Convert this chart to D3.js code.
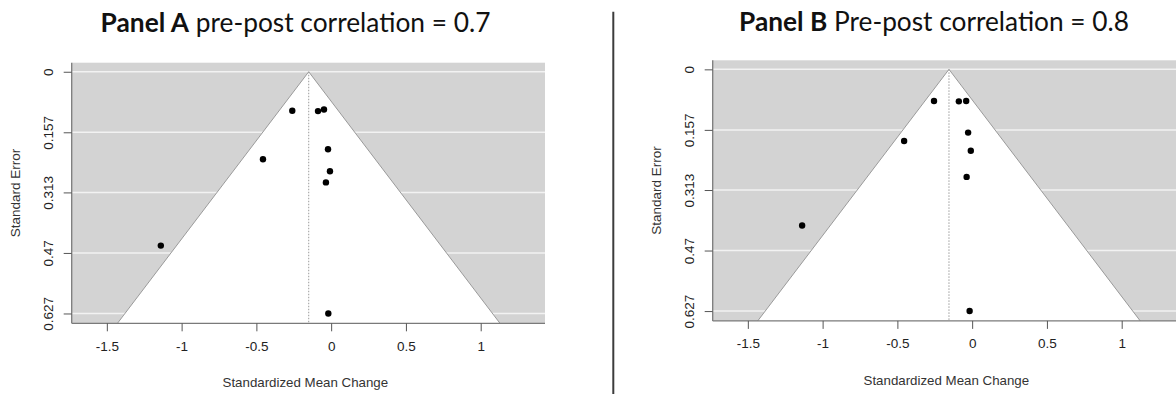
<!DOCTYPE html>
<html>
<head>
<meta charset="utf-8">
<script src="https://cdn.jsdelivr.net/npm/d3@7/dist/d3.min.js"></script>
<style>
  html, body { margin: 0; padding: 0; background: #fff; }
  svg { display: block; }
</style>
</head>
<body>
<svg id="chart" width="1176" height="394"></svg>
<script>
// Axis ticks shared by both funnel plots
const seTicks = [0, 0.157, 0.313, 0.47, 0.627];
const seTickLabels = ["0", "0.157", "0.313", "0.47", "0.627"];
const smcTicks = [-1.5, -1, -0.5, 0, 0.5, 1];
const smcTickLabels = ["-1.5", "-1", "-0.5", "0", "0.5", "1"];

// Panel A: pre-post correlation = 0.7
const panelA_smc = [-0.260, -0.088, -0.048, -0.021, -0.008, -0.035, -0.019, -0.456, -1.139];
const panelA_se  = [0.101, 0.102, 0.098, 0.201, 0.258, 0.287, 0.627, 0.227, 0.451];
const panelA_estimate = -0.15;

// Panel B: pre-post correlation = 0.8
const panelB_smc = [-0.255, -0.089, -0.040, -0.027, -0.455, -0.009, -0.037, -0.017, -1.137];
const panelB_se  = [0.082, 0.083, 0.082, 0.164, 0.186, 0.211, 0.279, 0.627, 0.405];
const panelB_estimate = -0.155;

const funnelZ = 1.96;
const xDomain = [-1.735, 1.43];
const yDomain = [-0.0235, 0.6525];

const panels = [
  { label: "Panel A", rest: " pre-post correlation = 0.7", smc: panelA_smc, se: panelA_se,
    est: panelA_estimate, left: 71.7, top: 62.7, titleX: 295.5, titleY: 31.7 },
  { label: "Panel B", rest: " Pre-post correlation = 0.8", smc: panelB_smc, se: panelB_se,
    est: panelB_estimate, left: 712.7, top: 60.3, titleX: 934, titleY: 30.5 }
];

const plotW = 473.3, plotH = 260.6;
const svg = d3.select("#chart");

// Divider between the two panels
svg.append("line")
  .attr("x1", 613.3).attr("x2", 613.3).attr("y1", 11.7).attr("y2", 394)
  .attr("stroke", "#3c3c3c").attr("stroke-width", 2);

panels.forEach(p => {
  const x = d3.scaleLinear().domain(xDomain).range([p.left, p.left + plotW]);
  const y = d3.scaleLinear().domain(yDomain).range([p.top, p.top + plotH]);
  const g = svg.append("g");

  // shaded background
  g.append("rect")
    .attr("x", x(xDomain[0])).attr("y", y(yDomain[0]))
    .attr("width", x(xDomain[1]) - x(xDomain[0]))
    .attr("height", y(yDomain[1]) - y(yDomain[0]))
    .attr("fill", "#d3d3d3");

  // horizontal grid at SE ticks
  g.selectAll("line.grid").data(seTicks).join("line")
    .attr("class", "grid")
    .attr("x1", x(xDomain[0])).attr("x2", x(xDomain[1]))
    .attr("y1", d => y(d)).attr("y2", d => y(d))
    .attr("stroke", "#f2f2f2").attr("stroke-width", 1.5);

  // pseudo confidence region
  const seMax = yDomain[1];
  const funnel = [
    [p.est - funnelZ * seMax, seMax],
    [p.est, 0],
    [p.est + funnelZ * seMax, seMax]
  ];
  g.append("path")
    .attr("d", d3.line().x(d => x(d[0])).y(d => y(d[1]))(funnel) + "Z")
    .attr("fill", "#ffffff").attr("stroke", "none");
  g.append("path")
    .attr("d", d3.line().x(d => x(d[0])).y(d => y(d[1]))(funnel))
    .attr("fill", "none").attr("stroke", "#9a9a9a").attr("stroke-width", 1);

  // reference line at the pooled estimate
  g.append("line")
    .attr("x1", x(p.est)).attr("x2", x(p.est))
    .attr("y1", y(0)).attr("y2", y(yDomain[1]))
    .attr("stroke", "#9a9a9a").attr("stroke-width", 1)
    .attr("stroke-dasharray", "1.5,1.5");

  // left and bottom frame
  g.append("line")
    .attr("x1", x(xDomain[0])).attr("x2", x(xDomain[0]))
    .attr("y1", y(yDomain[0])).attr("y2", y(yDomain[1]))
    .attr("stroke", "#7a7a7a").attr("stroke-width", 1.3);
  g.append("line")
    .attr("x1", x(xDomain[0])).attr("x2", x(xDomain[1]))
    .attr("y1", y(yDomain[1])).attr("y2", y(yDomain[1]))
    .attr("stroke", "#7a7a7a").attr("stroke-width", 1.3);

  // x axis
  const xAxis = d3.axisBottom(x).tickValues(smcTicks)
    .tickFormat((d, i) => smcTickLabels[i]).tickSize(8).tickPadding(10);
  const xg = g.append("g").attr("transform", `translate(0,${y(yDomain[1])})`).call(xAxis);
  xg.select(".domain").remove();
  xg.selectAll(".tick line").attr("stroke", "#555");
  xg.selectAll(".tick text").attr("fill", "#222")
    .style("font-family", "'Liberation Sans', Arial, sans-serif").style("font-size", "13.5px");

  // y axis with rotated labels
  const yAxis = d3.axisLeft(y).tickValues(seTicks)
    .tickFormat((d, i) => seTickLabels[i]).tickSize(8).tickPadding(0);
  const yg = g.append("g").attr("transform", `translate(${x(xDomain[0])},0)`).call(yAxis);
  yg.select(".domain").remove();
  yg.selectAll(".tick line").attr("stroke", "#555");
  yg.selectAll(".tick text")
    .attr("x", null).attr("dy", null)
    .attr("text-anchor", "middle")
    .attr("transform", "translate(-19,0) rotate(-90)")
    .attr("fill", "#222")
    .style("font-family", "'Liberation Sans', Arial, sans-serif").style("font-size", "13.5px");

  // studies
  g.selectAll("circle.study").data(p.smc.map((v, i) => [v, p.se[i]])).join("circle")
    .attr("class", "study")
    .attr("cx", d => x(d[0])).attr("cy", d => y(d[1]))
    .attr("r", 3.2).attr("fill", "#000");

  // axis titles
  g.append("text")
    .attr("x", (x(xDomain[0]) + x(xDomain[1])) / 2 - 3)
    .attr("y", y(yDomain[1]) + 64)
    .attr("text-anchor", "middle")
    .attr("fill", "#333")
    .style("font-family", "'Liberation Sans', Arial, sans-serif").style("font-size", "13.3px")
    .text("Standardized Mean Change");
  g.append("text")
    .attr("transform", `translate(${x(xDomain[0]) - 52},${(y(yDomain[0]) + y(yDomain[1])) / 2}) rotate(-90)`)
    .attr("text-anchor", "middle")
    .attr("fill", "#333")
    .style("font-family", "'Liberation Sans', Arial, sans-serif").style("font-size", "13.5px")
    .text("Standard Error");

  // panel title
  const t = svg.append("text")
    .attr("x", p.titleX).attr("y", p.titleY)
    .attr("text-anchor", "middle")
    .attr("fill", "#111")
    .style("font-family", "Lato, 'Open Sans', sans-serif").style("font-size", "22px");
  t.append("tspan").style("font-weight", "bold").text(p.label);
  t.append("tspan").text(p.rest);
  const w = t.node().getComputedTextLength();
  t.style("font-size", (22 * 390 / w).toFixed(2) + "px");
});
</script>
</body>
</html>
